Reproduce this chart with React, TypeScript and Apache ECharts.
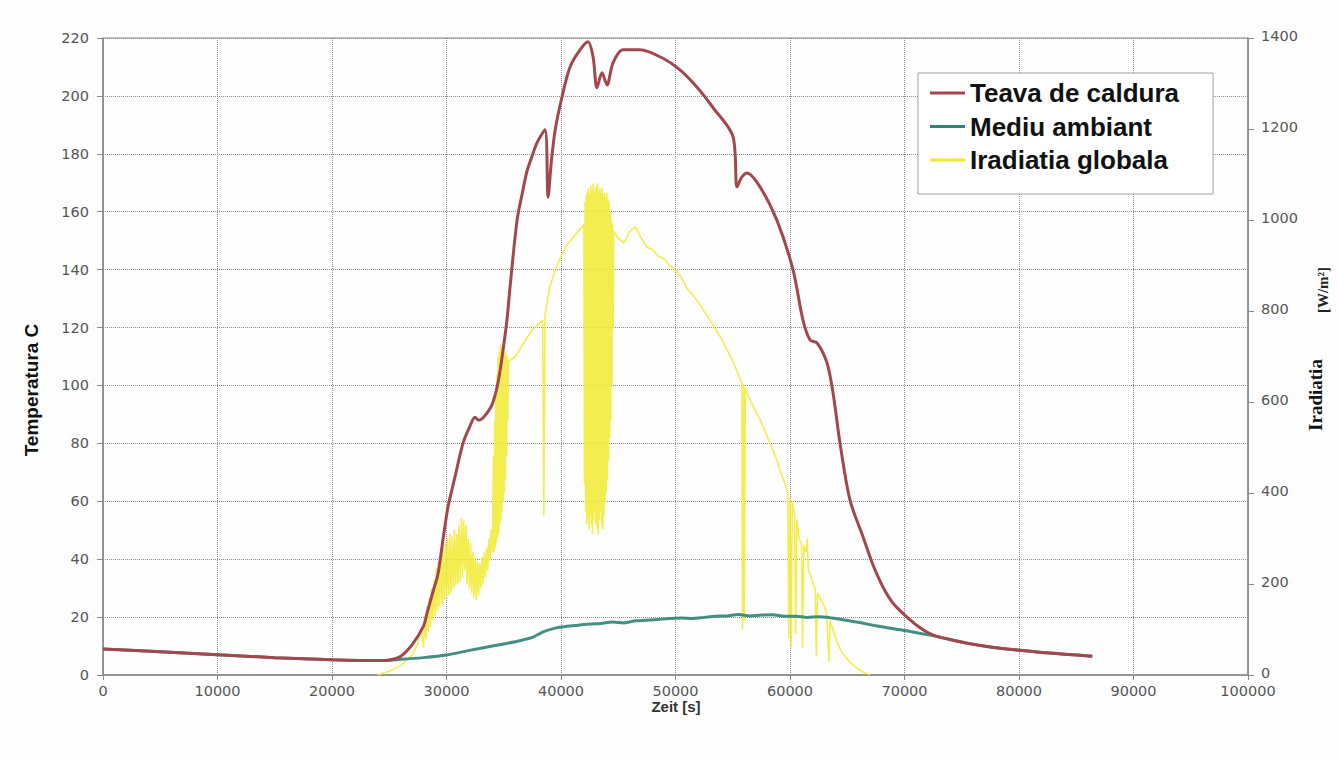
import { useEffect, useRef } from "react";
import * as echarts from "echarts";

// time [s], temperature [°C] — heat pipe ("Teava de caldura")
const teavaDeCaldura: [number, number][] = [
  [0, 9.0], [5000, 8.0], [10000, 7.0], [15000, 6.0], [20000, 5.3], [24000, 5.0],
  [25000, 5.2], [26000, 6.5], [27000, 10.5], [28000, 17], [28300, 21.4], [28800, 28.5],
  [29260, 35], [29700, 47], [30130, 58], [30740, 68.4], [31440, 80], [32000, 85.5],
  [32490, 89], [32800, 88], [33190, 88.8], [33970, 93.3], [34500, 101], [34930, 112],
  [35280, 122.6], [35550, 134], [36160, 157], [36600, 166], [37030, 174], [37500, 179.5],
  [37900, 183.8], [38600, 188.3], [38870, 165], [39150, 177], [39480, 188], [40090, 199.7],
  [40790, 210], [41660, 215.9], [42360, 218.7], [42800, 213.5], [43140, 202.8], [43580, 208],
  [44020, 203.8], [44540, 211.4], [45410, 215.9], [46900, 215.9], [48900, 213], [50390, 209],
  [51880, 203], [53270, 196], [55020, 186], [55370, 168.6], [55800, 172], [56240, 173.4],
  [57380, 168.6], [58860, 157], [60260, 140], [61130, 122.6], [61750, 115.7], [62360, 114.7],
  [63230, 107.8], [63760, 97.4], [64370, 80], [65240, 60.4], [66380, 47.7], [67200, 38.5],
  [68120, 30.4], [69000, 24.8], [70220, 20], [71300, 16.5], [72490, 13.8], [74000, 12.2],
  [75460, 11.0], [77500, 9.7], [79830, 8.6], [82000, 7.8], [84000, 7.2], [86400, 6.5],
];

// time [s], ambient temperature [°C] — "Mediu ambiant"
const mediuAmbiant: [number, number][] = [
  [0, 9.0], [5000, 8.0], [10000, 7.0], [15000, 6.0], [20000, 5.3], [24000, 5.0],
  [26000, 5.4], [28000, 6.0], [30000, 6.9], [32000, 8.5], [34000, 10.0], [36000, 11.5],
  [37500, 13.0], [38500, 15.0], [39500, 16.2], [40500, 16.8], [41500, 17.2], [42500, 17.6],
  [43500, 17.8], [44500, 18.3], [45500, 18.0], [46500, 18.7], [47500, 18.9], [48500, 19.2],
  [49500, 19.5], [50500, 19.7], [51500, 19.5], [52500, 19.9], [53500, 20.3], [54500, 20.4],
  [55500, 20.9], [56500, 20.4], [57500, 20.7], [58500, 20.8], [59500, 20.3], [60500, 20.3],
  [61500, 19.9], [62500, 20.1], [63500, 19.8], [64500, 19.2], [65500, 18.5], [66500, 17.8],
  [67500, 17.0], [68500, 16.3], [70000, 15.4], [71300, 14.4], [72490, 13.6], [74000, 12.3],
  [75460, 11.0], [77500, 9.7], [79830, 8.6], [82000, 7.8], [84000, 7.2], [86400, 6.5],
];

// time [s], global irradiation [W/m²] — "Iradiatia globala"
const iradiatiaGlobala: [number, number][] = [
  [24000, 0], [25000, 8], [26000, 20], [27000, 45], [27500, 70], [27800, 100], [28000, 60],
  [28100, 130], [28200, 80], [28300, 150], [28400, 95], [28500, 170], [28600, 105],
  [28700, 190], [28800, 120], [28900, 210], [29000, 130], [29100, 235], [29200, 140],
  [29300, 250], [29400, 150], [29500, 265], [29600, 155], [29700, 280], [29800, 165],
  [29900, 290], [30000, 170], [30100, 300], [30200, 175], [30300, 310], [30400, 180],
  [30500, 305], [30600, 190], [30700, 320], [30800, 195], [30900, 310], [31000, 200],
  [31100, 330], [31200, 205], [31300, 345], [31400, 215], [31500, 340], [31600, 230],
  [31700, 330], [31800, 200], [31900, 300], [32000, 190], [32100, 290], [32200, 180],
  [32300, 270], [32400, 170], [32500, 260], [32600, 165], [32700, 250], [32800, 175],
  [32900, 245], [33000, 190], [33100, 260], [33200, 200], [33300, 270], [33400, 215],
  [33500, 280], [33600, 230], [33700, 300], [33800, 250], [33900, 320], [34000, 270],
  [34100, 480], [34150, 270], [34200, 560], [34250, 280], [34300, 620], [34350, 290],
  [34400, 660], [34450, 300], [34500, 700], [34550, 310], [34600, 710], [34650, 330],
  [34700, 725], [34750, 340], [34800, 720], [34850, 360], [34900, 715], [34950, 380],
  [35000, 720], [35050, 400], [35100, 710], [35150, 430], [35200, 705], [35250, 480],
  [35300, 700], [35350, 560], [35400, 690], [35500, 690], [36000, 700], [36500, 720],
  [37000, 740], [37500, 760], [38000, 770], [38400, 780], [38500, 350], [38600, 790],
  [39000, 850], [39500, 890], [40000, 920], [40500, 945], [41000, 960], [41500, 975],
  [42000, 990], [42050, 420], [42100, 1040], [42150, 360], [42200, 1055], [42250, 330],
  [42300, 1065], [42350, 340], [42400, 1070], [42450, 320], [42500, 1060], [42550, 350],
  [42600, 1075], [42650, 330], [42700, 1065], [42750, 310], [42800, 1080], [42850, 340],
  [42900, 1060], [42950, 360], [43000, 1070], [43050, 330], [43100, 1075], [43150, 320],
  [43200, 1080], [43250, 310], [43300, 1065], [43350, 340], [43400, 1070], [43450, 360],
  [43500, 1060], [43550, 330], [43600, 1070], [43650, 320], [43700, 1055], [43750, 350],
  [43800, 1060], [43850, 380], [43900, 1050], [43950, 400], [44000, 1060], [44050, 430],
  [44100, 1045], [44150, 470], [44200, 1040], [44250, 520], [44300, 1020], [44350, 560],
  [44400, 1000], [44450, 640], [44500, 990], [44550, 760], [44600, 975],
  [45000, 960], [45500, 950], [46000, 975], [46500, 985], [47000, 960], [47500, 940],
  [48000, 935], [48500, 920], [49000, 915], [49500, 900], [50000, 890], [50500, 875],
  [51000, 850], [51500, 835], [52000, 820], [52500, 800], [53000, 780], [53500, 760],
  [54000, 740], [54500, 715], [55000, 690], [55500, 660], [55800, 640], [55850, 100],
  [55950, 640], [56000, 120], [56100, 630], [56500, 605], [57000, 580], [57500, 555],
  [58000, 525], [58500, 495], [59000, 460], [59500, 425], [59800, 400], [59900, 80],
  [60000, 390], [60100, 60], [60200, 380], [60400, 350], [60500, 90], [60600, 340],
  [60800, 300], [61000, 290], [61100, 60], [61200, 285], [61400, 270], [61500, 300],
  [61600, 230], [61800, 220], [62000, 200], [62200, 190], [62300, 40], [62400, 180],
  [62800, 160], [63000, 150], [63200, 135], [63400, 30], [63500, 120], [64000, 80],
  [64500, 50], [65000, 35], [65500, 22], [66000, 12], [66500, 5], [67000, 0],
];

const seriesNames = ["Teava de caldura", "Mediu ambiant", "Iradiatia globala"];
const seriesColors = ["#a3474f", "#2f8474", "#f2ea30"];

const axisGray = "#8a8a8a";
const tickFont = "'DejaVu Sans', Arial, sans-serif";
const labelStyle = { color: "#555", fontSize: 14.5, fontFamily: tickFont, formatter: (v: number) => String(v) };

export default function App() {
  const ref = useRef<HTMLDivElement>(null);
  useEffect(() => {
    const chart = echarts.init(ref.current!, null, { renderer: "svg" });
    chart.setOption({
      animation: false,
      backgroundColor: "#fefefe",
      grid: { left: 103, right: 91, top: 38, bottom: 86, show: true, borderColor: axisGray, borderWidth: 1 },
      xAxis: {
        type: "value",
        min: 0,
        max: 100000,
        interval: 10000,
        axisLine: { show: true, lineStyle: { color: axisGray, width: 1.5 } },
        axisTick: { show: true, length: 5, lineStyle: { color: axisGray } },
        axisLabel: { ...labelStyle, margin: 8 },
        splitLine: { show: true, lineStyle: { type: "dotted", color: "#8c8c8c", width: 1 } },
      },
      yAxis: [
        {
          type: "value",
          min: 0,
          max: 220,
          interval: 20,
          position: "left",
          axisLine: { show: true, lineStyle: { color: axisGray, width: 1.5 } },
          axisTick: { show: true, length: 6, lineStyle: { color: axisGray } },
          axisLabel: { ...labelStyle, margin: 14 },
          splitLine: { show: true, lineStyle: { type: "dotted", color: "#8c8c8c", width: 1 } },
        },
        {
          type: "value",
          min: 0,
          max: 1400,
          interval: 200,
          position: "right",
          axisLine: { show: true, lineStyle: { color: axisGray, width: 1.5 } },
          axisTick: { show: true, length: 6, lineStyle: { color: axisGray } },
          axisLabel: { ...labelStyle, margin: 13, verticalAlign: "bottom", lineHeight: 14, padding: [0, 0, -5, 0] },
          splitLine: { show: false },
        },
      ],
      legend: {
        show: true,
        orient: "vertical",
        left: 918,
        top: 73,
        padding: [6, 34, 20, 12],
        itemGap: 5.5,
        itemWidth: 35,
        itemHeight: 3,
        icon: "rect",
        backgroundColor: "#ffffff",
        borderColor: "#a0a0a0",
        borderWidth: 1,
        textStyle: {
          color: "#111",
          fontSize: 26,
          fontWeight: "bold",
          lineHeight: 28,
          fontFamily: "Arial, 'Liberation Sans', sans-serif",
        },
        data: seriesNames,
      },
      graphic: [
        {
          type: "text",
          x: 31,
          y: 390,
          rotation: Math.PI / 2,
          style: {
            text: "Temperatura C",
            fill: "#111",
            fontSize: 19,
            fontWeight: "bold",
            fontFamily: "Arial, 'Liberation Sans', sans-serif",
            align: "center",
            verticalAlign: "middle",
          },
        },
        {
          type: "text",
          x: 1315,
          y: 395,
          rotation: Math.PI / 2,
          style: {
            text: "Iradiatia",
            fill: "#111",
            fontSize: 19,
            fontWeight: "bold",
            fontFamily: "'Liberation Serif', 'Times New Roman', serif",
            align: "center",
            verticalAlign: "middle",
          },
        },
        {
          type: "text",
          x: 1323,
          y: 290,
          rotation: Math.PI / 2,
          style: {
            text: "[W/m²]",
            fill: "#222",
            fontSize: 15,
            fontWeight: "bold",
            fontFamily: "'Liberation Serif', 'Times New Roman', serif",
            align: "center",
            verticalAlign: "middle",
          },
        },
        {
          type: "text",
          x: 676,
          y: 706,
          style: {
            text: "Zeit [s]",
            fill: "#333",
            fontSize: 15,
            fontWeight: "bold",
            fontFamily: "Arial, 'Liberation Sans', sans-serif",
            align: "center",
            verticalAlign: "middle",
          },
        },
      ],
      series: [
        {
          name: seriesNames[0],
          type: "line",
          yAxisIndex: 0,
          data: teavaDeCaldura,
          showSymbol: false,
          smooth: 0.3,
          z: 4,
          itemStyle: { color: seriesColors[0] },
          lineStyle: { color: seriesColors[0], width: 3 },
        },
        {
          name: seriesNames[1],
          type: "line",
          yAxisIndex: 0,
          data: mediuAmbiant,
          showSymbol: false,
          smooth: 0.3,
          z: 3,
          itemStyle: { color: seriesColors[1] },
          lineStyle: { color: seriesColors[1], width: 3, opacity: 0.9 },
        },
        {
          name: seriesNames[2],
          type: "line",
          yAxisIndex: 1,
          data: iradiatiaGlobala,
          showSymbol: false,
          z: 2,
          itemStyle: { color: seriesColors[2] },
          lineStyle: { color: seriesColors[2], width: 1.6, opacity: 0.85 },
        },
      ],
    });
    return () => chart.dispose();
  }, []);
  return <div ref={ref} style={{ position: "absolute", left: 0, top: 0, width: 1339, height: 761 }} />;
}
